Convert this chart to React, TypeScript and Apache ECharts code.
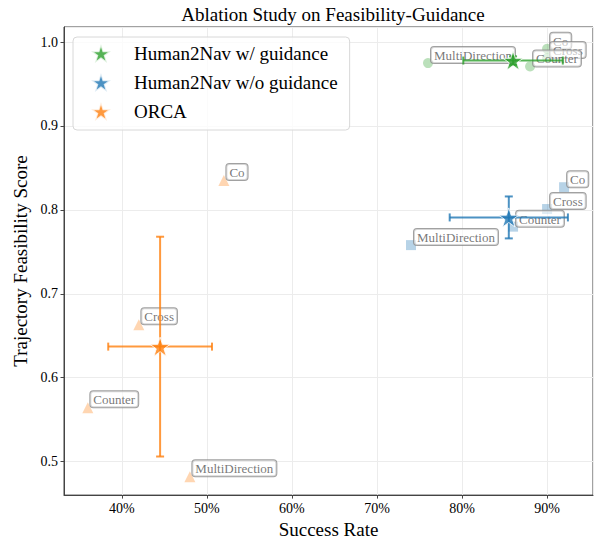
import React, { useEffect, useRef } from "react";
import * as echarts from "echarts";

// ---- data ----
const conditions = ["Co", "Cross", "Counter", "MultiDirection"];

const groupNames = ["Human2Nav w/ guidance", "Human2Nav w/o guidance", "ORCA"];
const groupColors = ["#2ca02c", "#1f77b4", "#ff7f0e"];
const groupPointColors = ["rgba(44,160,44,0.4)", "rgba(31,119,180,0.4)", "rgba(255,127,14,0.4)"];
const groupErrColors = ["rgba(44,160,44,0.8)", "rgba(31,119,180,0.8)", "rgba(255,127,14,0.8)"];
const groupSymbols = ["circle", "rect", "triangle"];

// per-condition points (success rate %, feasibility score)
const withGuidanceSuccess = [90, 90, 88, 76];
const withGuidanceFeas = [0.992, 0.981, 0.971, 0.975];
const withoutGuidanceSuccess = [92, 90, 86, 74];
const withoutGuidanceFeas = [0.827, 0.801, 0.78, 0.758];
const orcaSuccess = [52, 42, 36, 48];
const orcaFeas = [0.835, 0.663, 0.564, 0.482];

// group means and standard deviations
const meanSuccess = [86, 85.5, 44.5];
const meanFeas = [0.978, 0.791, 0.637];
const stdSuccess = [5.85, 6.95, 6.1];
const stdFeas = [0.005, 0.025, 0.131];

const xTickLabelSuffix = "%";

const STAR =
  "path://M0,-1L0.2245,-0.309L0.9511,-0.309L0.3633,0.118L0.5878,0.809L0,0.382L-0.5878,0.809L-0.3633,0.118L-0.9511,-0.309L-0.2245,-0.309Z";

const FONT = "'Liberation Serif', 'Times New Roman', serif";

export default function App() {
  const ref = useRef<HTMLDivElement>(null);

  useEffect(() => {
    if (!ref.current) return;
    const chart = echarts.init(ref.current, undefined, { renderer: "svg" });

    const pointSets = [
      [withGuidanceSuccess, withGuidanceFeas],
      [withoutGuidanceSuccess, withoutGuidanceFeas],
      [orcaSuccess, orcaFeas],
    ];

    const pointSeries = pointSets.map(([xs, ys], g) => ({
      type: "scatter",
      name: "pts-" + g,
      z: 2,
      symbol: groupSymbols[g],
      symbolSize: g === 2 ? 11 : 10,
      itemStyle: { color: groupPointColors[g] },
      data: xs.map((x, i) => ({ name: conditions[i], value: [x, ys[i]] })),
      label: {
        show: true,
        formatter: "{b}",
        position: [8, 5],
        align: "left",
        verticalAlign: "bottom",
        fontFamily: FONT,
        fontSize: 13,
        color: "#555",
        backgroundColor: "rgba(255,255,255,0.7)",
        borderColor: "#8a8a8a",
        borderWidth: 1,
        borderRadius: 3,
        padding: [2, 3, 1, 3],
      },
      emphasis: { disabled: true },
      silent: true,
    }));

    const errSeries = groupNames.map((_, g) => ({
      type: "custom",
      name: "err-" + g,
      z: 3,
      silent: true,
      clip: false,
      encode: { x: 0, y: 1 },
      data: [[meanSuccess[g], meanFeas[g], stdSuccess[g], stdFeas[g]]],
      renderItem: (_params: any, api: any) => {
        const x = api.value(0);
        const y = api.value(1);
        const xe = api.value(2);
        const ye = api.value(3);
        const l = api.coord([x - xe, y]);
        const r = api.coord([x + xe, y]);
        const t = api.coord([x, y + ye]);
        const b = api.coord([x, y - ye]);
        const cap = 4;
        const style = { stroke: groupErrColors[g], lineWidth: 2 };
        const mk = (x1: number, y1: number, x2: number, y2: number) => ({
          type: "line",
          shape: { x1, y1, x2, y2 },
          style,
        });
        return {
          type: "group",
          children: [
            mk(l[0], l[1], r[0], r[1]),
            mk(t[0], t[1], b[0], b[1]),
            mk(l[0], l[1] - cap, l[0], l[1] + cap),
            mk(r[0], r[1] - cap, r[0], r[1] + cap),
            mk(t[0] - cap, t[1], t[0] + cap, t[1]),
            mk(b[0] - cap, b[1], b[0] + cap, b[1]),
          ],
        };
      },
    }));

    const starSeries = groupNames.map((name, g) => ({
      type: "scatter",
      name,
      z: 4,
      symbol: STAR,
      symbolKeepAspect: true,
      symbolSize: 20,
      itemStyle: { color: groupColors[g], borderColor: "#fff", borderWidth: 1 },
      data: [[meanSuccess[g], meanFeas[g]]],
      emphasis: { disabled: true },
      silent: true,
    }));

    chart.setOption({
      animation: false,
      backgroundColor: "#fff",
      title: {
        text: "Ablation Study on Feasibility-Guidance",
        left: 328,
        textAlign: "center",
        top: 0,
        textStyle: { fontFamily: FONT, fontSize: 19, fontWeight: "normal", color: "#000" },
      },
      legend: {
        left: 73,
        top: 37,
        orient: "vertical",
        data: groupNames.map((n) => ({ name: n, icon: STAR })),
        itemWidth: 20,
        itemHeight: 19,
        itemGap: 8,
        padding: [6, 12, 8, 17],
        backgroundColor: "rgba(255,255,255,0.8)",
        borderColor: "#d8d8d8",
        borderWidth: 1,
        borderRadius: 4,
        textStyle: { fontFamily: FONT, fontSize: 19, color: "#000", padding: [0, 0, 0, 18] },
        selectedMode: false,
      },
      grid: {
        left: 64,
        right: 1,
        top: 27,
        bottom: 44,
        show: true,
        borderColor: "#444",
        borderWidth: 1,
        containLabel: false,
      },
      xAxis: {
        type: "value",
        min: 33.2,
        max: 95.4,
        minInterval: 10,
        maxInterval: 10,
        name: "Success Rate",
        nameLocation: "middle",
        nameGap: 22,
        nameTextStyle: { fontFamily: FONT, fontSize: 19, color: "#000" },
        axisLine: { show: true, lineStyle: { color: "#444", width: 1 } },
        axisTick: { show: true, inside: false, length: 3.5, lineStyle: { color: "#444" } },
        axisLabel: {
          fontFamily: FONT,
          fontSize: 14,
          color: "#000",
          margin: 6,
          showMinLabel: false,
          showMaxLabel: false,
          formatter: (v: number) => Math.round(v) + xTickLabelSuffix,
        },
        splitLine: { show: true, lineStyle: { color: "#ececec", width: 1 } },
      },
      yAxis: {
        type: "value",
        min: 0.46,
        max: 1.018,
        minInterval: 0.1,
        maxInterval: 0.1,
        name: "Trajectory Feasibility Score",
        nameLocation: "middle",
        nameGap: 30,
        nameTextStyle: { fontFamily: FONT, fontSize: 19, color: "#000" },
        axisLine: { show: true, lineStyle: { color: "#444", width: 1 } },
        axisTick: { show: true, inside: false, length: 3.5, lineStyle: { color: "#444" } },
        axisLabel: {
          fontFamily: FONT,
          fontSize: 14,
          color: "#000",
          margin: 6,
          showMinLabel: false,
          showMaxLabel: false,
          formatter: (v: number) => v.toFixed(1),
        },
        splitLine: { show: true, lineStyle: { color: "#ececec", width: 1 } },
      },
      series: [...pointSeries, ...errSeries, ...starSeries],
    });

    return () => chart.dispose();
  }, []);

  return (
    <div
      ref={ref}
      style={{ position: "fixed", left: 0, top: 0, width: 594, height: 544 }}
    />
  );
}
